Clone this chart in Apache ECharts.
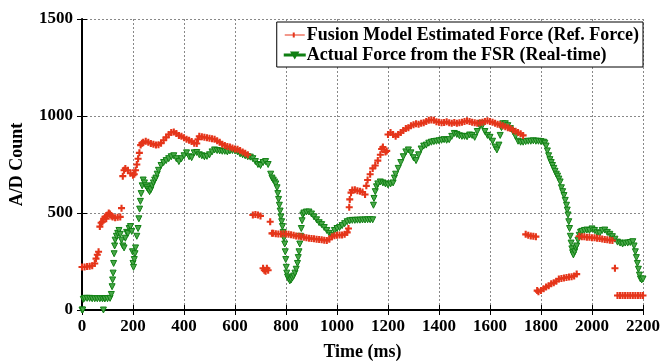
<!DOCTYPE html>
<html>
<head>
<meta charset="utf-8">
<script src="https://cdn.jsdelivr.net/npm/echarts@6/dist/echarts.min.js"></script>
<style>
  html, body { margin: 0; padding: 0; background: #fff; }
  #chart { width: 660px; height: 361px; }
</style>
</head>
<body>
<div id="chart"></div>
<script>
// [time (ms), A/D count]
const fusionForce = [
  [0,222],[10,222],[20,224],[30,225],[40,228],[50,240],[55,265],[60,285],[65,300],
  [70,430],[75,450],[80,455],[85,470],[90,480],[95,470],[100,490],[105,500],[110,495],[115,485],[120,480],[130,475],[140,478],[150,480],[155,525],
  [160,690],[165,720],[170,730],[180,720],[190,705],[200,695],[205,700],[210,720],[215,750],[220,780],[225,810],[230,850],[235,860],[240,865],
  [250,870],[260,865],[270,858],[280,855],[290,850],[300,852],[310,860],[320,875],[330,890],[340,905],[350,915],[360,918],[370,910],[380,900],
  [390,895],[400,888],[410,880],[420,875],[430,868],[440,860],[450,858],[455,880],[460,895],[470,893],[480,890],[490,888],[500,885],[510,883],
  [520,880],[530,872],[540,865],[550,855],[560,848],[570,843],[580,840],[590,835],[600,830],[610,828],[620,822],[630,815],[640,808],[650,800],
  [670,490],[680,492],[690,490],[700,485],[710,215],[715,205],[720,200],[725,215],[730,205],[738,455],
  [745,395],[750,395],[760,393],[770,392],[780,392],[790,393],[800,392],[810,390],[820,388],[830,385],[840,382],[850,380],[860,378],[870,375],
  [880,372],[890,370],[900,368],[910,367],[920,365],[930,364],[940,362],[950,360],[960,358],[970,365],[980,378],[990,383],[1000,385],[1010,386],
  [1020,387],[1030,390],[1040,400],[1045,420],[1048,530],[1050,570],
  [1055,605],[1060,618],[1070,620],[1080,615],[1090,612],[1100,608],[1110,595],[1115,640],[1120,670],[1130,700],[1140,730],[1150,745],[1160,770],
  [1170,800],[1175,830],[1180,840],[1190,815],[1195,820],[1200,905],[1210,915],[1220,905],[1230,895],[1240,905],[1250,915],[1260,925],[1270,935],
  [1280,940],[1290,950],[1300,955],[1310,960],[1320,958],[1330,962],[1340,965],[1350,972],[1360,978],[1370,980],[1380,978],[1390,970],[1400,968],
  [1410,965],[1420,966],[1430,970],[1440,965],[1450,962],[1460,966],[1470,962],[1480,965],[1490,968],[1500,972],[1510,975],[1520,972],[1530,968],
  [1540,965],[1550,962],[1560,965],[1570,968],[1580,972],[1590,975],[1600,972],[1610,968],[1620,962],[1630,958],[1640,955],[1650,950],[1660,945],
  [1670,940],[1680,935],[1690,928],[1700,922],[1710,915],[1720,908],[1730,900],
  [1740,390],[1750,385],[1760,382],[1770,380],[1780,378],
  [1785,100],[1790,94],[1800,100],[1810,110],[1820,118],[1830,125],[1840,135],[1850,140],[1860,148],[1870,160],[1880,162],[1890,165],[1900,168],
  [1910,170],[1920,172],[1930,175],[1940,185],
  [1950,380],[1960,378],[1970,377],[1980,375],[1990,375],[2000,373],[2010,372],[2020,370],[2030,368],[2040,366],[2050,364],[2060,362],[2070,360],
  [2080,358],[2090,215],
  [2100,75],[2110,75],[2120,75],[2130,75],[2140,75],[2150,75],[2160,75],[2170,75],[2180,75],[2190,75],[2200,75]
];

const fsrForce = [
  [0,0],[3,0],[5,55],[10,60],[20,60],[30,60],[40,58],[50,58],[60,58],[70,58],[80,58],[84,0],[88,58],[90,58],[100,58],[110,60],
  [115,80],[118,120],[120,155],[122,190],[124,240],[126,290],[128,330],[130,360],[135,380],[140,395],[145,410],[150,390],[155,360],[160,330],
  [165,320],[170,370],[175,400],[180,395],[185,420],[190,430],[195,405],[198,300],[200,240],[202,220],[205,260],[208,290],[210,320],[215,380],
  [220,420],[223,470],[226,520],[229,560],[232,600],[236,640],[240,670],[245,655],[250,640],[255,630],[260,620],[265,610],[270,620],[275,640],
  [280,655],[285,670],[290,680],[295,700],[300,720],[310,745],[320,760],[330,770],[340,780],[350,790],[360,795],[370,780],[380,765],[390,780],
  [400,795],[410,810],[420,790],[430,785],[440,810],[450,812],[460,800],[470,795],[480,790],[490,792],[500,800],[510,815],[520,825],[530,822],
  [540,820],[550,818],[560,818],[570,815],[580,820],[590,822],[600,820],[610,815],[620,805],[630,800],[640,795],[650,790],[660,788],[670,780],
  [680,765],[690,750],[700,745],[710,760],[720,765],[730,750],[740,700],[745,680],[750,670],[755,660],[760,650],[765,630],[768,600],[771,570],
  [774,540],[777,510],[780,480],[783,455],[786,430],[789,400],[792,370],[795,340],[797,300],[799,260],[801,220],[803,190],[806,170],[810,160],
  [815,150],[820,155],[825,165],[830,175],[835,190],[840,210],[845,240],[848,270],[851,300],[854,340],[857,380],[860,420],[863,460],[866,490],
  [870,500],[880,505],[890,505],[900,495],[910,480],[920,465],[930,450],[940,440],[950,425],[960,410],[970,395],[980,385],[990,410],[1000,420],
  [1010,425],[1020,435],[1030,445],[1040,455],[1050,460],[1060,462],[1070,462],[1080,463],[1090,463],[1100,464],[1110,464],[1120,465],[1130,465],
  [1140,465],[1143,540],[1145,575],[1150,610],[1155,635],[1160,650],[1170,660],[1180,655],[1190,650],[1200,645],[1210,650],[1220,655],[1225,680],
  [1230,700],[1240,730],[1250,760],[1260,790],[1270,815],[1280,825],[1290,810],[1300,785],[1310,770],[1320,800],[1330,830],[1340,845],[1350,850],
  [1360,860],[1370,865],[1380,868],[1390,870],[1400,872],[1410,875],[1420,878],[1430,875],[1440,878],[1450,895],[1460,910],[1470,905],[1480,898],
  [1490,895],[1500,895],[1510,893],[1520,902],[1530,900],[1540,890],[1550,920],[1560,950],[1565,962],[1570,950],[1580,920],[1590,900],[1600,890],
  [1610,870],[1620,840],[1627,825],[1635,850],[1640,900],[1645,940],[1650,960],[1660,960],[1670,950],[1680,935],[1690,920],[1700,895],[1710,870],
  [1720,865],[1730,865],[1740,868],[1750,870],[1760,870],[1770,872],[1780,870],[1790,870],[1800,868],[1810,865],[1815,860],[1820,845],[1825,820],
  [1830,795],[1835,775],[1840,760],[1845,745],[1850,730],[1855,715],[1860,700],[1865,690],[1870,675],[1875,660],[1880,630],[1885,610],[1890,590],
  [1895,565],[1900,540],[1903,515],[1906,490],[1909,455],[1912,420],[1915,380],[1918,345],[1921,315],[1924,295],[1927,284],[1932,300],[1936,320],
  [1940,330],[1945,360],[1950,385],[1955,400],[1960,405],[1970,410],[1980,412],[1990,410],[2000,418],[2010,410],[2020,398],[2030,395],[2040,410],
  [2050,412],[2060,400],[2070,390],[2080,378],[2090,365],[2100,350],[2110,345],[2120,340],[2130,345],[2140,345],[2150,348],[2160,352],[2165,330],
  [2170,300],[2174,270],[2178,240],[2182,210],[2186,180],[2190,160],[2195,155],[2200,160]
];

const xTicks = { min: 0, max: 2200, interval: 200 };
const yTicks = { min: 0, max: 1500, interval: 500 };
const seriesNames = ['Fusion Model Estimated Force (Ref. Force)', 'Actual Force from the FSR (Real-time)'];

const RED = '#e5351a';
const GREEN = '#0f7f12';
const FONT = '"Liberation Serif", "DejaVu Serif", serif';

const plusPath = 'path://M3.5,0H6.5V3.5H10V6.5H6.5V10H3.5V6.5H0V3.5H3.5Z';
// legend icons: short line with the marker in the middle
const legendRed = 'path://M0,4.5H8V2.5H10V4.5H12V5.5H10V7.5H8V5.5H0Z M10,4.5H20V5.5H10Z M6,4.5H12V5.5H6Z';
const legendGreen = 'path://M0,4.5H20V5.5H0Z M7,2.5H13L10,7.5Z';

const chart = echarts.init(document.getElementById('chart'));

const tickInside = { show: true, inside: true, length: 5, lineStyle: { color: '#000', width: 1 } };
const axisLine = { show: true, lineStyle: { color: '#000', width: 2 } };
const labelStyle = { color: '#000', fontFamily: FONT, fontWeight: 'bold', fontSize: 17 };
const plain = v => String(v);

const option = {
  animation: false,
  grid: { left: 82, right: 17, top: 19, bottom: 51, outerBoundsMode: 'none', containLabel: false },
  legend: {
    orient: 'vertical',
    right: 17,
    top: 22,
    padding: [4, 4, 3, 7],
    itemGap: 2,
    itemWidth: 20,
    itemHeight: 10,
    borderColor: '#000',
    borderWidth: 1,
    backgroundColor: '#fff',
    textStyle: { color: '#000', fontFamily: FONT, fontWeight: 'bold', fontSize: 18, padding: [0, 0, 0, -3] },
    data: [
      { name: seriesNames[0], icon: legendRed, itemStyle: { color: RED } },
      { name: seriesNames[1], icon: legendGreen, itemStyle: { color: GREEN } }
    ]
  },
  xAxis: [
    {
      type: 'value', position: 'bottom', ...xTicks,
      name: 'Time (ms)', nameLocation: 'middle', nameGap: 33,
      nameTextStyle: { ...labelStyle, fontSize: 18 },
      axisLine, axisTick: tickInside,
      axisLabel: { ...labelStyle, margin: 8, formatter: plain },
      splitLine: { show: true, lineStyle: { color: '#888', type: [2, 2], width: 1 } }
    },
    {
      type: 'value', position: 'top', ...xTicks,
      axisLine: { show: true, lineStyle: { color: '#000', width: 1 } },
      axisTick: tickInside, axisLabel: { show: false }, splitLine: { show: false }
    }
  ],
  yAxis: [
    {
      type: 'value', position: 'left', ...yTicks,
      name: 'A/D Count', nameLocation: 'middle', nameGap: 56, nameRotate: 90,
      nameTextStyle: { ...labelStyle, fontSize: 18 },
      axisLine, axisTick: tickInside,
      axisLabel: { ...labelStyle, margin: 9, formatter: plain },
      splitLine: { show: true, lineStyle: { color: '#888', type: [2, 2], width: 1 } }
    },
    {
      type: 'value', position: 'right', ...yTicks,
      axisLine: { show: true, lineStyle: { color: '#000', width: 1 } },
      axisTick: tickInside, axisLabel: { show: false }, splitLine: { show: false }
    }
  ],
  series: [
    {
      name: seriesNames[1],
      type: 'scatter',
      data: fsrForce,
      symbol: 'triangle',
      symbolRotate: 180,
      symbolSize: 6,
      itemStyle: { color: '#4aa84a', borderColor: GREEN, borderWidth: 1, opacity: 1 },
      z: 2
    },
    {
      name: seriesNames[0],
      type: 'scatter',
      data: fusionForce,
      symbol: plusPath,
      symbolSize: 7,
      itemStyle: { color: RED, opacity: 1 },
      z: 3
    }
  ]
};

chart.setOption(option);
window.addEventListener('resize', () => {
  chart.resize();
});
</script>
</body>
</html>
